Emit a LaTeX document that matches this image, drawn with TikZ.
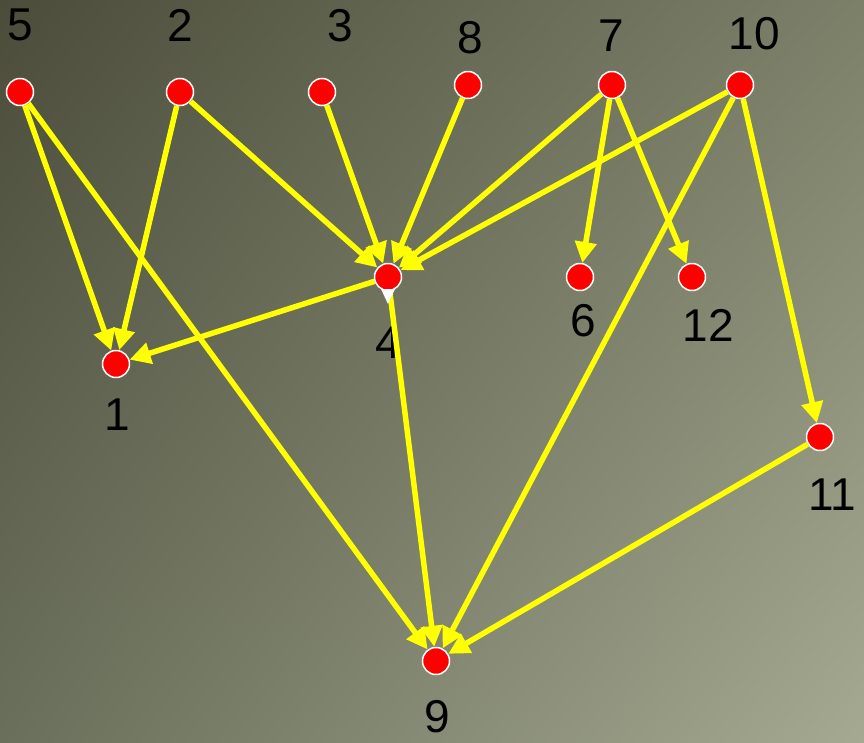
\documentclass[tikz,border=0pt]{standalone}
\usepackage{fontspec}
\setmainfont{Liberation Sans}
\usetikzlibrary{arrows.meta,shadings}
\definecolor{bgUL}{HTML}{4B4D3A}
\definecolor{bgUR}{HTML}{7C8069}
\definecolor{bgLL}{HTML}{6A6F5B}
\definecolor{bgLR}{HTML}{A5A991}
\tikzset{
  vert/.style={circle, fill=red, draw=white, line width=1.5pt, minimum size=27pt, inner sep=0pt},
  lab/.style={text=black, font=\fontsize{46}{46}\selectfont, inner sep=0pt},
  edge/.style={draw={rgb,255:red,255;green,255;blue,0}, line width=5.5pt, -{Triangle[length=21pt,width=21pt]}}
}
\begin{document}
\begin{tikzpicture}[x=1pt,y=-1pt]
\useasboundingbox (0,0) rectangle (864,742);
\shade[upper left=bgUL, upper right=bgUR, lower left=bgLL, lower right=bgLR] (0,0) rectangle (864,742);

% vertices
\node[vert] (n5) at (20,92) {};
\node[vert] (n2) at (180,92) {};
\node[vert] (n3) at (322,92) {};
\node[vert] (n8) at (468,85) {};
\node[vert] (n7) at (612,85) {};
\node[vert] (n10) at (740,85) {};
\node[vert] (n4) at (388,277) {};
\node[vert] (n6) at (580,277) {};
\node[vert] (n12) at (692,277) {};
\node[vert] (n1) at (116,364) {};
\node[vert] (n11) at (820,437) {};
\node[vert] (n9) at (436,661) {};

% labels
\node[lab] (l5) at (20,25) {5};
\node[lab] (l2) at (180,25) {2};
\node[lab] (l3) at (340,26) {3};
\node[lab] (l8) at (470,38) {8};
\node[lab] (l7) at (611,36) {7};
\node[lab] (l10) at (754,34) {10};
\node[lab] (l4) at (388,343) {4};
\node[lab] (l6) at (583,321) {6};
\node[lab] (l12) at (708,325) {12};
\node[lab] (l1) at (117,415) {1};
\node[lab] (l11) at (832,495) {11};
\node[lab] (l9) at (437,717) {9};

% edges
\draw[edge] (n5) -- (n1);
\draw[edge] (n5) -- (n9);
\draw[edge] (n2) -- (n1);
\draw[edge] (n2) -- (n4);
\draw[edge] (n3) -- (n4);
\draw[edge] (n8) -- (n4);
\draw[edge] (n7) -- (n4);
\draw[edge] (n7) -- (n6);
\draw[edge] (n7) -- (n12);
\draw[edge] (n10) -- (n4);
\draw[edge] (n10) -- (n9);
\draw[edge] (n10) -- (n11);
\draw[edge] (n4) -- (n1);
\draw[edge] (n4) -- (n9);
\draw[edge] (n11) -- (n9);

% small white marker below node 4
\fill[white] (381,289) -- (395,289) -- (388,304) -- cycle;
\end{tikzpicture}
\end{document}
